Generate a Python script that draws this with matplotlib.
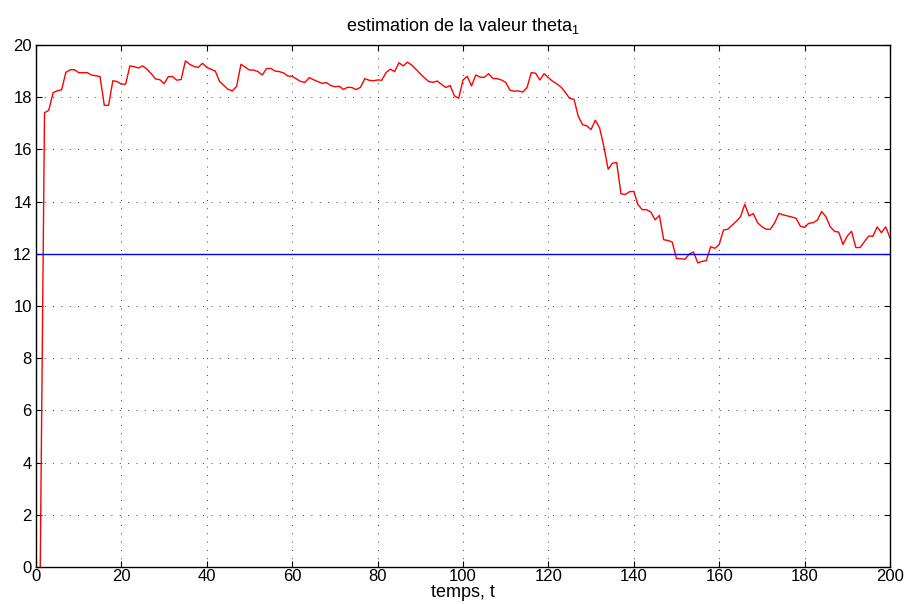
import numpy as np
import matplotlib
matplotlib.use("Agg")
import matplotlib.pyplot as plt

plt.rcParams['font.family'] = ['Liberation Sans', 'DejaVu Sans']
plt.rcParams['mathtext.fontset'] = 'custom'
plt.rcParams['mathtext.rm'] = 'Liberation Sans'
plt.rcParams['mathtext.it'] = 'Liberation Sans'

# valeurs (t = 1..200)
theta_est = [
    0.0, 17.4, 17.5, 18.17, 18.25, 18.28, 18.95, 19.05, 19.05, 18.94,
    18.94, 18.94, 18.85, 18.82, 18.79, 17.69, 17.69, 18.63, 18.6, 18.5,
    18.5, 19.2, 19.17, 19.12, 19.2, 19.07, 18.9, 18.7, 18.67, 18.52,
    18.79, 18.79, 18.65, 18.68, 19.39, 19.26, 19.18, 19.14, 19.3, 19.14,
    19.07, 19.0, 18.6, 18.45, 18.3, 18.24, 18.42, 19.26, 19.15, 19.04,
    19.04, 18.98, 18.85, 19.1, 19.1, 19.0, 18.98, 18.93, 18.81, 18.8,
    18.7, 18.6, 18.57, 18.75, 18.67, 18.6, 18.53, 18.56, 18.45, 18.4,
    18.42, 18.3, 18.38, 18.37, 18.29, 18.38, 18.71, 18.65, 18.63, 18.66,
    18.65, 18.95, 19.07, 18.98, 19.32, 19.2, 19.34, 19.23, 19.07, 18.9,
    18.74, 18.6, 18.57, 18.62, 18.49, 18.37, 18.45, 18.05, 17.96, 18.66,
    18.8, 18.43, 18.85, 18.77, 18.76, 18.9, 18.72, 18.71, 18.66, 18.57,
    18.27, 18.23, 18.24, 18.2, 18.37, 18.94, 18.92, 18.66, 18.9, 18.75,
    18.61, 18.51, 18.38, 18.18, 17.95, 17.92, 17.27, 16.95, 16.9, 16.76,
    17.12, 16.82, 16.11, 15.24, 15.47, 15.5, 14.3, 14.27, 14.38, 14.39,
    13.88, 13.69, 13.69, 13.6, 13.3, 13.47, 12.54, 12.51, 12.45, 11.82,
    11.81, 11.79, 11.99, 12.07, 11.65, 11.71, 11.74, 12.27, 12.21, 12.35,
    12.91, 12.94, 13.09, 13.24, 13.42, 13.9, 13.45, 13.54, 13.19, 13.04,
    12.94, 12.94, 13.19, 13.55, 13.49, 13.45, 13.41, 13.36, 13.06, 13.01,
    13.17, 13.19, 13.29, 13.62, 13.42, 13.04, 12.86, 12.83, 12.36, 12.68,
    12.86, 12.24, 12.24, 12.46, 12.68, 12.67, 13.03, 12.81, 13.03, 12.62,
]
t = np.arange(1, len(theta_est) + 1)
theta_vrai = 12

fig = plt.figure(figsize=(9.06, 6.04), dpi=100)
ax = fig.add_axes([0.0397, 0.0613, 0.9426, 0.8642])

ax.plot(t, theta_est, color='red', linewidth=1.0)
ax.axhline(theta_vrai, color='blue', linewidth=1.0)

ax.set_xlim(0, 200)
ax.set_ylim(0, 20)
ax.set_xticks(np.arange(0, 201, 20))
ax.set_yticks(np.arange(0, 21, 2))
ax.tick_params(direction='in', top=True, right=True, length=4, width=0.8,
               labelsize=12, pad=3)
ax.tick_params(axis='x', pad=1.5)
ax.grid(True, color='black', linestyle=(0, (1, 9)), linewidth=0.6)
for s in ax.spines.values():
    s.set_linewidth(1.0)

ax.set_title('estimation de la valeur theta$_1$', fontsize=13, pad=10)
ax.set_xlabel('temps, t', fontsize=13, labelpad=0)

fig.savefig('out.png', dpi=100)
